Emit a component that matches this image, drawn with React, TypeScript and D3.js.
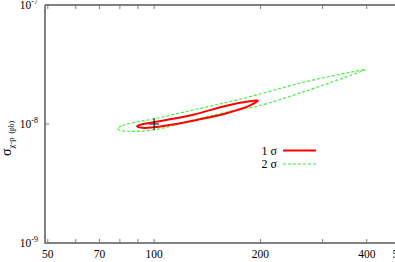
import React from 'react';
import * as d3 from 'd3';

// x ticks (GeV) and labels
const xTicks = [50, 60, 70, 80, 90, 100, 200, 300, 400, 500];
const xLabels = [50, 70, 100, 200, 400, 500];
const yTicks = [1e-9, 1e-8, 1e-7];
const yExps = ['-9', '-8', '-7'];

// 2 sigma contour (green dashed)
const sig2X = [78.8, 81.3, 85.6, 99.5, 129.0, 174.7, 269.2, 356.5, 398.1, 388.7, 269.2, 194.7, 174.7, 129.0, 99.5, 85.6, 80.2];
const sig2Y = [0.92e-8, 0.971e-8, 1.014e-8, 1.102e-8, 1.311e-8, 1.613e-8, 2.267e-8, 2.709e-8, 2.871e-8, 2.789e-8, 1.894e-8, 1.403e-8, 1.329e-8, 1.08e-8, 0.89e-8, 0.868e-8, 0.885e-8];

// 1 sigma contour (red solid)
const sig1X = [89.4, 92.5, 99.5, 129.0, 160.3, 186.4, 196.7, 186.4, 160.3, 129.0, 99.5, 92.5];
const sig1Y = [0.956e-8, 0.994e-8, 1.033e-8, 1.197e-8, 1.425e-8, 1.552e-8, 1.576e-8, 1.425e-8, 1.23e-8, 1.066e-8, 0.938e-8, 0.929e-8];

const bestFit = { x: 100, y: 1e-8 };

const W = 395;
const H = 262;

export default function App() {
  const x = d3.scaleLog().domain([49.1, 500]).range([45, 401]);
  const y = d3.scaleLog().domain([1e-9, 1e-7]).range([243, 5]);

  const line = d3
    .line<[number, number]>()
    .x((d) => x(d[0]))
    .y((d) => y(d[1]))
    .curve(d3.curveCatmullRomClosed.alpha(0.5));

  const pts2 = sig2X.map((v, i) => [v, sig2Y[i]] as [number, number]);
  const pts1 = sig1X.map((v, i) => [v, sig1Y[i]] as [number, number]);

  const x0 = 45;
  const yb = 243;
  const yt = 5;
  const font = '"Liberation Serif", "Times New Roman", serif';
  const cx = x(bestFit.x);
  const cy = y(bestFit.y);

  return (
    <div style={{ position: 'absolute', left: 0, top: 0 }}>
      <svg width={W} height={H} style={{ display: 'block', background: '#fff' }} fontFamily={font}>
        {/* top border */}
        <line x1={x0} x2={W} y1={yt} y2={yt} stroke="#000" strokeWidth={1.2} />
        {xTicks.map((t) => (
          <g key={t}>
            <line x1={x(t)} x2={x(t)} y1={yb} y2={yb - 4} stroke="#777" strokeWidth={1} />
            <line x1={x(t)} x2={x(t)} y1={yt} y2={yt + 4} stroke="#777" strokeWidth={1} />
          </g>
        ))}
        {yTicks.map((t) => (
          <line key={t} x1={x0} x2={x0 + 4} y1={y(t)} y2={y(t)} stroke="#777" strokeWidth={1} />
        ))}
        {/* left and bottom axes */}
        <line x1={x0} x2={x0} y1={yt} y2={yb + 1} stroke="#808080" strokeWidth={2} />
        <line x1={x0 - 1} x2={W} y1={yb} y2={yb} stroke="#808080" strokeWidth={2} />

        {xLabels.map((t) => (
          <text key={t} x={x(t)} y={258} fontSize={11.5} textAnchor="middle" fill="#000">
            {t}
          </text>
        ))}
        {yTicks.map((t, i) => (
          <text key={t} x={38} y={y(t) + 4} fontSize={11.5} textAnchor="end" fill="#000">
            10<tspan fontSize={8} dy={-5}>{yExps[i]}</tspan>
          </text>
        ))}

        {/* y axis title */}
        <text transform="translate(11,156) rotate(-90)" fontSize={14} fill="#000">
          σ<tspan fontSize={8.5} dy={3}>χ-p</tspan>
          <tspan fontSize={7.5} dx={4}>(pb)</tspan>
        </text>

        {/* contours */}
        <path d={line(pts2) || ''} fill="none" stroke="#33ee33" strokeWidth={1.1} strokeDasharray="3,2" />
        <path d={line(pts1) || ''} fill="none" stroke="#ff0000" strokeWidth={2} />

        {/* best fit cross */}
        <line x1={cx - 5} x2={cx + 5} y1={cy} y2={cy} stroke="#555" strokeWidth={1.5} />
        <line x1={cx} x2={cx} y1={cy - 6} y2={cy + 6} stroke="#000" strokeWidth={1} />

        {/* legend */}
        <text x={277} y={155} fontSize={12} textAnchor="end" fill="#000">1 σ</text>
        <line x1={283} x2={316} y1={150.5} y2={150.5} stroke="#ff0000" strokeWidth={2} />
        <text x={277} y={168} fontSize={12} textAnchor="end" fill="#000">2 σ</text>
        <line x1={283} x2={316} y1={164} y2={164} stroke="#33ee33" strokeWidth={1.1} strokeDasharray="3,2" />
      </svg>
    </div>
  );
}
